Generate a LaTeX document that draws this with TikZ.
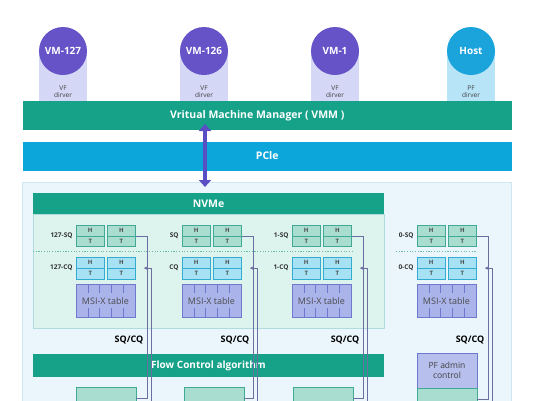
\documentclass[tikz,border=0pt]{standalone}
\usepackage{fontspec}
\setmainfont{Open Sans}
\usetikzlibrary{positioning,arrows.meta,calc}

\definecolor{vmmgreen}{RGB}{22,161,137}
\definecolor{pciblue}{RGB}{12,166,218}
\definecolor{vmpurple}{RGB}{101,83,199}
\definecolor{hostblue}{RGB}{27,164,220}
\definecolor{vfstrip}{RGB}{212,215,245}
\definecolor{pfstrip}{RGB}{184,228,247}
\definecolor{outerbg}{RGB}{234,246,251}
\definecolor{outerline}{RGB}{205,232,242}
\definecolor{nvmebg}{RGB}{220,243,238}
\definecolor{sqfill}{RGB}{168,221,208}
\definecolor{sqline}{RGB}{64,170,148}
\definecolor{cqfill}{RGB}{166,226,243}
\definecolor{cqline}{RGB}{50,172,210}
\definecolor{msifill}{RGB}{170,180,234}
\definecolor{msiline}{RGB}{110,120,205}
\definecolor{linkgray}{RGB}{108,110,160}
\definecolor{arrowpurple}{RGB}{90,78,196}

\tikzset{
  bar/.style={fill=#1, minimum width=489.5pt, minimum height=29pt, inner sep=0pt},
  bartext/.style={text=white, font=\fontsize{10.5}{12}\selectfont\bfseries},
  vmcircle/.style={circle, fill=#1, minimum size=48pt, inner sep=0pt, text=white,
    font=\fontsize{10}{12}\selectfont\bfseries},
  drvstrip/.style={fill=#1, minimum width=48pt, minimum height=50pt, inner sep=0pt},
  drvtext/.style={align=center, font=\fontsize{6.5}{7}\selectfont, text=black!75, inner sep=3pt},
  htbox/.style={draw=#1, line width=0.6pt, minimum width=28.5pt, minimum height=21.5pt, inner sep=0pt,
    align=center, font=\fontsize{6}{10.75}\selectfont\bfseries, text=black!70,
    path picture={
      \draw[#1, line width=0.6pt] (path picture bounding box.west) -- (path picture bounding box.east);}},
  sqbox/.style={htbox=sqline, fill=sqfill},
  cqbox/.style={htbox=cqline, fill=cqfill},
  qlabel/.style={font=\fontsize{6.5}{7}\selectfont\bfseries, text=black!80, inner sep=1pt},
  msibox/.style={draw=msiline, fill=msifill, line width=0.6pt, minimum width=59pt, minimum height=33pt,
    inner sep=0pt, font=\fontsize{9}{10}\selectfont, text=black!70,
    path picture={\foreach \k in {1,...,4}{
      \draw[msiline, line width=0.6pt]
        ($(path picture bounding box.north west)!\k/5!(path picture bounding box.north east)$) -- ++(0,-9pt)
        ($(path picture bounding box.south west)!\k/5!(path picture bounding box.south east)$) -- ++(0,9pt);}}},
  sqcq/.style={font=\fontsize{9}{10}\selectfont\bfseries, anchor=east, inner sep=0pt},
  fcbox/.style={draw=sqline, fill=sqfill, line width=0.6pt, minimum width=60pt, minimum height=26pt, inner sep=0pt},
  link/.style={draw=linkgray, line width=0.8pt},
  cqarrow/.style={link, {Stealth[length=3.5pt,width=3.5pt]}-, shorten <=8pt},
  dotline/.style={draw=sqline!80, line width=0.7pt, dash pattern=on 1.2pt off 1.5pt},
  biarrow/.style={draw=arrowpurple, line width=3.5pt,
    {Triangle[length=7pt,width=12pt]}-{Triangle[length=7pt,width=12pt]}}
}

\begin{document}
\begin{tikzpicture}[x=1pt,y=-1pt]
\useasboundingbox (0,0) rectangle (534,400);
\fill[white] (0,0) rectangle (534,400);

% guests and host
\node[drvstrip=vfstrip, label={[drvtext, anchor=south]south:VF\\dirver}] (d127) at (63,76) {};
\node[drvstrip=vfstrip, label={[drvtext, anchor=south]south:VF\\dirver}] (d126) at (204,76) {};
\node[drvstrip=vfstrip, label={[drvtext, anchor=south]south:VF\\dirver}] (d1) at (335,76) {};
\node[drvstrip=pfstrip, label={[drvtext, anchor=south]south:PF\\dirver}] (dh) at (471,76) {};
\node[vmcircle=vmpurple] (vm127) at (63,51) {VM-127};
\node[vmcircle=vmpurple] (vm126) at (204,51) {VM-126};
\node[vmcircle=vmpurple] (vm1) at (335,51) {VM-1};
\node[vmcircle=hostblue] (host) at (471,51) {Host};

% VMM and PCIe
\node[bar=vmmgreen] (vmm) at (267.25,115.5) {};
\node[bartext, xshift=-10pt] at (vmm) {Vritual Machine Manager ( VMM )};
\node[bar=pciblue] (pcie) at (267.25,156) {};
\node[bartext] at (pcie) {PCle};

% device
\draw[outerline, fill=outerbg] (22.5,182) rectangle (511.5,412);
\draw[outerline!80!sqline, fill=nvmebg] (33,214) rectangle (384,328);
\node[fill=vmmgreen, minimum width=351pt, minimum height=21pt, inner sep=0pt] (nvme) at (208.5,203.5) {};
\node[bartext] at (nvme) {NVMe};
\coordinate (a1) at (205,124);
\coordinate (a2) at (205,187);
\draw[biarrow] (a1) -- (a2);

\draw[dotline] (33,251.5) -- (352,251.5);
\draw[dotline] (396,251.5) -- (477,251.5);

% queues of VM-127
\node[sqbox] (s1a) at (90.25,236) {H\\T};
\node[sqbox, right=2pt of s1a] (s1b) {H\\T};
\node[cqbox, below=10pt of s1a] (c1a) {H\\T};
\node[cqbox, right=2pt of c1a] (c1b) {H\\T};
\node[qlabel, left=2pt of s1a] {127-SQ};
\node[qlabel, left=2pt of c1a] {127-CQ};
\node[msibox, below=5pt of c1a.south west, anchor=north west] (m1) {MSI-X table};

% queues of VM-126
\node[sqbox] (s2a) at (196.25,236) {H\\T};
\node[sqbox, right=2pt of s2a] (s2b) {H\\T};
\node[cqbox, below=10pt of s2a] (c2a) {H\\T};
\node[cqbox, right=2pt of c2a] (c2b) {H\\T};
\node[qlabel, left=2pt of s2a] {SQ};
\node[qlabel, left=2pt of c2a] {CQ};
\node[msibox, below=5pt of c2a.south west, anchor=north west] (m2) {MSI-X table};

% queues of VM-1
\node[sqbox] (s3a) at (306.25,236) {H\\T};
\node[sqbox, right=2pt of s3a] (s3b) {H\\T};
\node[cqbox, below=10pt of s3a] (c3a) {H\\T};
\node[cqbox, right=2pt of c3a] (c3b) {H\\T};
\node[qlabel, left=2pt of s3a] {1-SQ};
\node[qlabel, left=2pt of c3a] {1-CQ};
\node[msibox, below=5pt of c3a.south west, anchor=north west] (m3) {MSI-X table};

% queues of the host
\node[sqbox] (s4a) at (431.25,236) {H\\T};
\node[sqbox, right=2pt of s4a] (s4b) {H\\T};
\node[cqbox, below=10pt of s4a] (c4a) {H\\T};
\node[cqbox, right=2pt of c4a] (c4b) {H\\T};
\node[qlabel, left=2pt of s4a] {0-SQ};
\node[qlabel, left=2pt of c4a] {0-CQ};
\node[msibox, below=5pt of c4a.south west, anchor=north west] (m4) {MSI-X table};

% flow control
\node[fill=vmmgreen, minimum width=351pt, minimum height=23pt, inner sep=0pt] (flow) at (208.5,365.5) {};
\node[bartext, font=\fontsize{10}{12}\selectfont\bfseries] at (flow) {Flow Control algorithm};
\node[draw=msiline, fill=msifill!85!white, line width=0.6pt, minimum width=60pt, minimum height=35pt,
  inner sep=0pt, align=center, font=\fontsize{8.5}{9.5}\selectfont, text=black!75] (pfadm) at (447,370.5) {PF admin\\control};
\node[fcbox] (f1) at (106,400) {};
\node[fcbox] (f2) at (214,400) {};
\node[fcbox] (f3) at (323,400) {};
\node[fcbox, below=0pt of pfadm] (f4) {};

\node[sqcq] at (143.5,340) {SQ/CQ};
\node[sqcq] at (249.5,340) {SQ/CQ};
\node[sqcq] at (359.5,340) {SQ/CQ};
\node[sqcq] at (484.5,340) {SQ/CQ};

% SQ/CQ paths
\draw[link] (s1b.east) -- ++(11,0) |- ([yshift=2pt]f1.east);
\draw[cqarrow] (c1b.east) -- ++(15.5,0) |- ([yshift=-3pt]f1.east);
\draw[link] (s2b.east) -- ++(11,0) |- ([yshift=2pt]f2.east);
\draw[cqarrow] (c2b.east) -- ++(15.5,0) |- ([yshift=-3pt]f2.east);
\draw[link] (s3b.east) -- ++(11,0) |- ([yshift=2pt]f3.east);
\draw[cqarrow] (c3b.east) -- ++(15.5,0) |- ([yshift=-3pt]f3.east);
\draw[link] (s4b.east) -- ++(11,0) |- ([yshift=2pt]f4.east);
\draw[cqarrow] (c4b.east) -- ++(15.5,0) |- ([yshift=-3pt]f4.east);
\end{tikzpicture}
\end{document}
